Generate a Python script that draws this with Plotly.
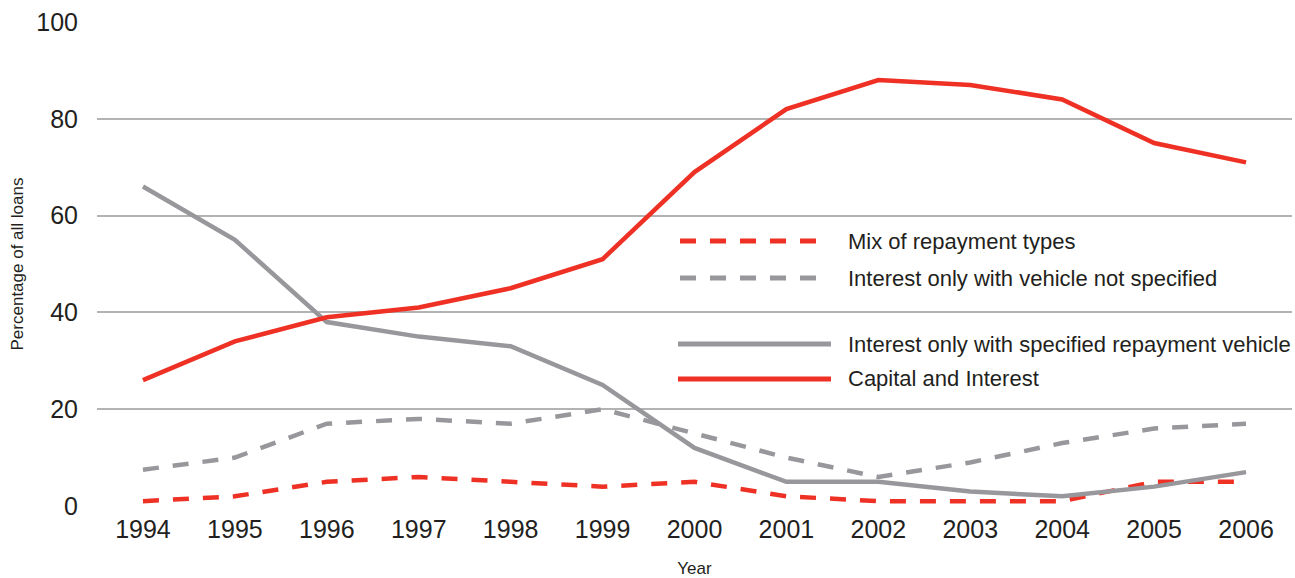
import plotly.graph_objects as go

# Share of all loans by repayment type, 1994-2006 (%)
years = [1994, 1995, 1996, 1997, 1998, 1999, 2000, 2001, 2002, 2003, 2004, 2005, 2006]
capital_and_interest = [26, 34, 39, 41, 45, 51, 69, 82, 88, 87, 84, 75, 71]
interest_only_specified = [66, 55, 38, 35, 33, 25, 12, 5, 5, 3, 2, 4, 7]
interest_only_not_specified = [7.5, 10, 17, 18, 17, 20, 15, 10, 6, 9, 13, 16, 17]
mix_of_types = [1, 2, 5, 6, 5, 4, 5, 2, 1, 1, 1, 5, 5]
y_ticks = [0, 20, 40, 60, 80, 100]

RED = "#ee3124"
GREY = "#98989c"
TEXT = "#231f20"
FONT = "Liberation Sans, Arial, sans-serif"

W, H = 1295, 578
ML, MR, MT, MB = 97, 3, 22, 72
PW, PH = W - ML - MR, H - MT - MB

series = [
    ("Mix of repayment types", mix_of_types, RED, "16px,14px"),
    ("Interest only with vehicle not specified", interest_only_not_specified, GREY, "16px,14px"),
    ("Interest only with specified repayment vehicle", interest_only_specified, GREY, "solid"),
    ("Capital and Interest", capital_and_interest, RED, "solid"),
]

fig = go.Figure()
for name, vals, color, dash in series:
    fig.add_trace(go.Scatter(
        x=years, y=vals, mode="lines", name=name,
        line=dict(color=color, width=4.5, dash=dash),
        showlegend=False, hoverinfo="x+y+name",
    ))


def px_x(px):
    return (px - ML) / PW


def px_y(py):
    return (MT + PH - py) / PH


# Hand-built key: long line samples with labels to their right
key_rows = [(241, 680, 823), (278, 680, 823), (344, 678, 831), (379, 678, 831)]
for (name, vals, color, dash), (row_y, x0, x1) in zip(series, key_rows):
    fig.add_shape(
        type="line", xref="paper", yref="paper",
        x0=px_x(x0), x1=px_x(x1), y0=px_y(row_y), y1=px_y(row_y),
        line=dict(color=color, width=5, dash=dash),
    )
    fig.add_annotation(
        xref="paper", yref="paper", x=px_x(846), y=px_y(row_y),
        text=name, showarrow=False, xanchor="left", yanchor="middle",
        font=dict(family=FONT, size=22, color=TEXT),
    )

fig.update_layout(
    width=W, height=H,
    margin=dict(l=ML, r=MR, t=MT, b=MB),
    paper_bgcolor="white", plot_bgcolor="white",
    font=dict(family=FONT, color=TEXT),
    showlegend=False,
    xaxis=dict(
        range=[1993.5, 2006.5], tickmode="array", tickvals=years,
        ticktext=[str(y) for y in years], automargin=False,
        showgrid=False, zeroline=False, showline=False, ticks="",
        tickfont=dict(family=FONT, size=25, color=TEXT),
        ticklabelstandoff=6,
        title=dict(text="Year", font=dict(family=FONT, size=17, color=TEXT), standoff=22),
    ),
    yaxis=dict(
        range=[0, 100], tickmode="array", tickvals=y_ticks, automargin=False,
        showgrid=True, gridcolor="#b3b3b3", gridwidth=1.5,
        zeroline=False, showline=False, ticks="",
        tickfont=dict(family=FONT, size=25, color=TEXT),
        ticklabelstandoff=18,
        title=dict(text="Percentage of all loans", font=dict(family=FONT, size=17, color=TEXT), standoff=8),
    ),
)

fig.write_html("out.html")
